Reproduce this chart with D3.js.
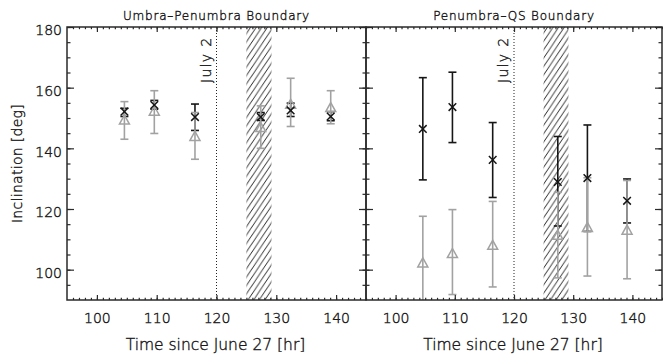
<!DOCTYPE html>
<html><head><meta charset="utf-8">
<script src="https://cdn.jsdelivr.net/npm/d3@7"></script>
<style>html,body{margin:0;padding:0;background:#fff}svg{display:block}
svg text{stroke:#1a1a1a;stroke-width:0.4px;paint-order:stroke}</style>
</head><body>
<svg id="c" width="663" height="360"></svg>
<script>
// ---- data ----
const panelTitles = ["Umbra\u2013Penumbra Boundary", "Penumbra\u2013QS Boundary"];
const xTitle = "Time since June 27 [hr]";
const yTitle = "Inclination [deg]";
const markerLabel = "July 2";
const markerTime = 120;
const gapStart = 125, gapEnd = 129.2;
const xDomain = [95, 145];
const yDomain = [90, 180];
const xTicks = [100, 110, 120, 130, 140];
const yTicks = [100, 120, 140, 160, 180];

const times = [104.6, 109.6, 116.4, 127.4, 132.4, 139.1];

// Umbra-Penumbra boundary
const upBlack   = [152.1, 154.3, 150.3, 150.3, 152.5, 150.5];
const upBlackLo = [150.5, 152.9, 145.9, 149.2, 150.5, 149.1];
const upBlackHi = [153.2, 155.8, 154.6, 151.8, 154.9, 152.1];
const upGray    = [149.5, 152.4, 144.1, 147.0, 154.7, 153.6];
const upGrayLo  = [143.0, 144.9, 136.4, 140.0, 147.2, 148.1];
const upGrayHi  = [155.4, 159.0, 151.8, 154.0, 163.1, 159.0];

// Penumbra-QS boundary
const pqBlack   = [146.4, 153.6, 136.2, 128.9, 130.2, 122.7];
const pqBlackLo = [129.6, 141.9, 123.8, 114.4, 112.6, 115.4];
const pqBlackHi = [163.3, 165.1, 148.5, 143.9, 147.7, 129.9];
const pqGray    = [102.4, 105.5, 108.2, 111.5, 114.1, 113.2];
const pqGrayLo  = [ 87.2,  91.8,  94.3,  97.3,  97.9,  97.0];
const pqGrayHi  = [117.6, 119.8, 122.5, 125.5, 130.3, 129.4];

const panelsData = [
  {black: upBlack, blackLo: upBlackLo, blackHi: upBlackHi, gray: upGray, grayLo: upGrayLo, grayHi: upGrayHi},
  {black: pqBlack, blackLo: pqBlackLo, blackHi: pqBlackHi, gray: pqGray, grayLo: pqGrayLo, grayHi: pqGrayHi}
];

// ---- layout ----
const svg = d3.select("#c");
const yTop = 27, yBot = 300;
const panels = [{x0: 67, x1: 366}, {x0: 366, x1: 662}];
const FONT = "'DejaVu Sans', sans-serif";
const FW = 200;
const TXT = "#1a1a1a";
const AX = "#2a2a2a", BLK = "#161616", GRY = "#a2a2a2";

const defs = svg.append("defs");
const pw = 5.6, ph = 8.4;
defs.append("pattern").attr("id", "hatch").attr("patternUnits", "userSpaceOnUse")
  .attr("width", pw).attr("height", ph)
  .append("path")
  .attr("d", `M${-pw},${ph} L0,0 M0,${ph} L${pw},0 M${pw},${ph} L${2*pw},0`)
  .attr("stroke", "#111").attr("stroke-width", 0.9).attr("fill", "none");

const y = d3.scaleLinear().domain(yDomain).range([yBot, yTop]);
const range = (a, b, s) => d3.range(a, b + 1e-9, s);

panels.forEach((p, i) => {
  const x = d3.scaleLinear().domain(xDomain).range([p.x0, p.x1]);
  const d = panelsData[i];
  const g = svg.append("g");
  defs.append("clipPath").attr("id", "clip" + i).append("rect")
    .attr("x", p.x0).attr("y", yTop).attr("width", p.x1 - p.x0).attr("height", yBot - yTop);
  const plot = g.append("g").attr("clip-path", `url(#clip${i})`);

  // hatched gap
  plot.append("rect").attr("x", x(gapStart)).attr("y", yTop)
    .attr("width", x(gapEnd) - x(gapStart)).attr("height", yBot - yTop)
    .attr("fill", "url(#hatch)");
  // July 2 dotted line
  plot.append("line").attr("x1", x(markerTime)).attr("x2", x(markerTime))
    .attr("y1", yTop).attr("y2", yBot)
    .attr("stroke", "#222").attr("stroke-width", 1).attr("stroke-dasharray", "1,2");
  g.append("text").attr("transform", `translate(${x(markerTime) - 6},${83}) rotate(-90)`)
    .attr("font-family", FONT).attr("font-weight", FW).attr("font-size", 14).attr("letter-spacing", 1.3)
    .attr("fill", TXT).text(markerLabel);

  const idx = d3.range(times.length);
  function errorBars(lo, hi, color) {
    const eb = plot.append("g").attr("stroke", color).attr("stroke-width", 1.6).attr("fill", "none");
    idx.forEach(k => {
      const cx = x(times[k]);
      eb.append("line").attr("x1", cx).attr("x2", cx).attr("y1", y(lo[k])).attr("y2", y(hi[k]));
      eb.append("line").attr("x1", cx - 4).attr("x2", cx + 4).attr("y1", y(lo[k])).attr("y2", y(lo[k]));
      eb.append("line").attr("x1", cx - 4).attr("x2", cx + 4).attr("y1", y(hi[k])).attr("y2", y(hi[k]));
    });
  }
  errorBars(d.blackLo, d.blackHi, BLK);
  errorBars(d.grayLo, d.grayHi, GRY);
  // gray triangles
  plot.append("g").selectAll("path").data(idx).join("path")
    .attr("transform", k => `translate(${x(times[k])},${y(d.gray[k])})`)
    .attr("d", "M-5,4.5 L0,-4.5 L5,4.5 Z")
    .attr("fill", "none").attr("stroke", GRY).attr("stroke-width", 1.5);
  // black X
  plot.append("g").selectAll("path").data(idx).join("path")
    .attr("transform", k => `translate(${x(times[k])},${y(d.black[k])})`)
    .attr("d", "M-3.8,-3.8 L3.8,3.8 M-3.8,3.8 L3.8,-3.8")
    .attr("fill", "none").attr("stroke", BLK).attr("stroke-width", 1.5);

  // ---- axes ----
  const axStyle = sel => {
    sel.select(".domain").remove();
    sel.selectAll("line").attr("stroke", AX).attr("stroke-width", 1.2);
    sel.selectAll("text").attr("font-family", FONT).attr("font-weight", FW).attr("font-size", 14).attr("fill", TXT);
  };
  // bottom
  g.append("g").attr("transform", `translate(0,${yBot})`)
    .call(d3.axisBottom(x).tickValues(range(96, 145, 1)).tickSize(-2.2).tickFormat("")).call(axStyle);
  g.append("g").attr("transform", `translate(0,${yBot})`)
    .call(d3.axisBottom(x).tickValues(xTicks).tickSize(-5).tickPadding(13).tickFormat(d3.format("d"))).call(axStyle);
  // top
  g.append("g").attr("transform", `translate(0,${yTop})`)
    .call(d3.axisTop(x).tickValues(range(96, 145, 1)).tickSize(-2.2).tickFormat("")).call(axStyle);
  g.append("g").attr("transform", `translate(0,${yTop})`)
    .call(d3.axisTop(x).tickValues(xTicks).tickSize(-5).tickFormat("")).call(axStyle);
  // left
  g.append("g").attr("transform", `translate(${p.x0},0)`)
    .call(d3.axisLeft(y).tickValues(range(95, 180, 5)).tickSize(-3.5).tickFormat("")).call(axStyle);
  const yl = g.append("g").attr("transform", `translate(${p.x0},0)`)
    .call(d3.axisLeft(y).tickValues(yTicks).tickSize(-7).tickPadding(5)
      .tickFormat(i === 0 ? d3.format("d") : "")).call(axStyle);
  yl.selectAll("text").attr("dy", "0.55em");
  // right
  g.append("g").attr("transform", `translate(${p.x1},0)`)
    .call(d3.axisRight(y).tickValues(range(95, 180, 5)).tickSize(-3.5).tickFormat("")).call(axStyle);
  g.append("g").attr("transform", `translate(${p.x1},0)`)
    .call(d3.axisRight(y).tickValues(yTicks).tickSize(-7).tickFormat("")).call(axStyle);

  // frame
  g.append("rect").attr("x", p.x0).attr("y", yTop).attr("width", p.x1 - p.x0).attr("height", yBot - yTop)
    .attr("fill", "none").attr("stroke", AX).attr("stroke-width", 1.5);

  // titles
  const cx = (p.x0 + p.x1) / 2;
  g.append("text").attr("x", cx).attr("y", 19.5).attr("text-anchor", "middle")
    .attr("font-family", FONT).attr("font-weight", FW).attr("font-size", 12).attr("letter-spacing", 0.8)
    .attr("fill", TXT).text(panelTitles[i]);
  g.append("text").attr("x", cx - 1).attr("y", 350).attr("text-anchor", "middle")
    .attr("font-family", FONT).attr("font-weight", FW).attr("font-size", 15.5)
    .attr("fill", TXT).text(xTitle);
});

svg.append("text").attr("transform", `translate(22,${(yTop + yBot) / 2}) rotate(-90)`)
  .attr("text-anchor", "middle").attr("font-family", FONT).attr("font-weight", FW).attr("font-size", 14)
  .attr("letter-spacing", 0.3).attr("fill", TXT).text(yTitle);
</script>
</body></html>
